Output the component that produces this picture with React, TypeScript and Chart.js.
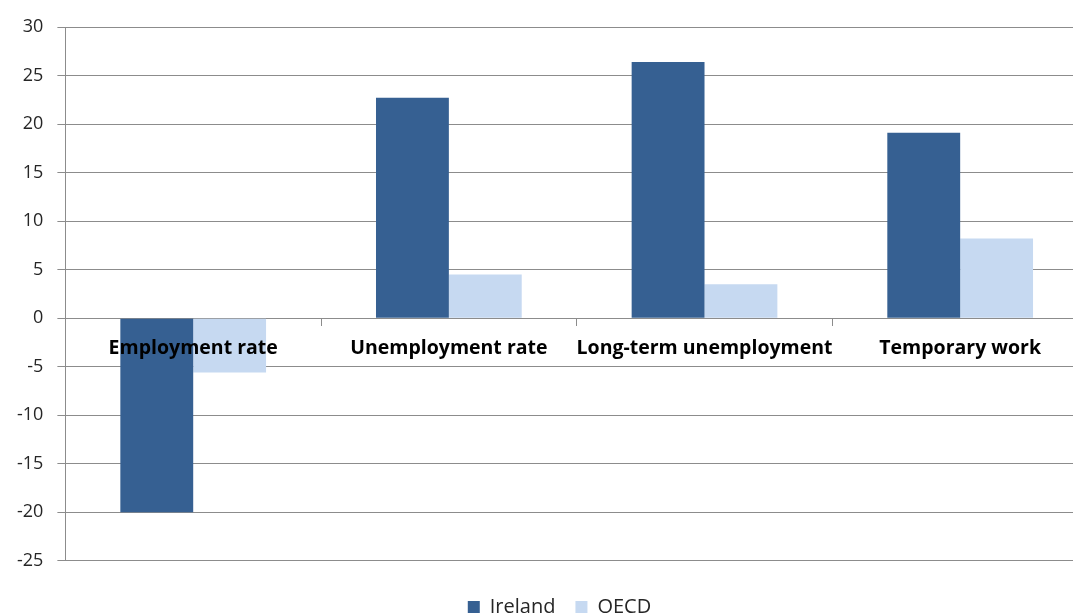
import React, { useEffect, useRef } from "react";
import { Chart, registerables } from "chart.js";

Chart.register(...registerables);

const categories = ["Employment rate", "Unemployment rate", "Long-term unemployment", "Temporary work"];
const irelandValues = [-20, 22.7, 26.4, 19.1];
const oecdValues = [-5.6, 4.5, 3.5, 8.2];
const yMin = -25;
const yMax = 30;
const yStep = 5;

const legendShift = {
  id: "legendShift",
  afterLayout(chart: any) {
    if (chart.legend) {
      chart.legend.left += 14;
      chart.legend.right += 14;
    }
  },
};

export default function App() {
  const ref = useRef<HTMLCanvasElement | null>(null);
  useEffect(() => {
    if (!ref.current) return;
    const gray = "#8c8c8c";
    const chart = new Chart(ref.current, {
      type: "bar",
      data: {
        labels: categories,
        datasets: [
          { label: "Ireland", data: irelandValues, backgroundColor: "#366092", borderWidth: 0 },
          { label: "OECD", data: oecdValues, backgroundColor: "#C6D9F1", borderWidth: 0 },
        ],
      },
      options: {
        responsive: false,
        animation: false,
        layout: { padding: { top: 27, right: 32, left: 3, bottom: 0 } },
        datasets: { bar: { barPercentage: 1, categoryPercentage: 0.57 } },
        scales: {
          x: {
            position: { y: 0 } as any,
            offset: true,
            grid: { offset: true, drawOnChartArea: false, drawTicks: true, tickLength: 7, color: gray },
            border: { display: true, color: gray },
            ticks: {
              z: 1,
              color: "#000",
              font: { family: "Open Sans", size: 19.5, weight: "bold" },
              padding: 12,
              maxRotation: 0,
              autoSkip: false,
            },
          },
          y: {
            min: yMin,
            max: yMax,
            ticks: { stepSize: yStep, color: "#262626", font: { family: "Open Sans", size: 18 }, padding: 14 },
            grid: { color: gray, tickLength: 8 },
            border: { color: gray },
          },
        },
        plugins: {
          legend: {
            position: "bottom",
            title: { display: true, text: "", font: { size: 1 }, padding: { top: 0, bottom: 15 } },
            labels: {
              boxWidth: 12,
              boxHeight: 12,
              color: "#262626",
              font: { family: "Open Sans", size: 20 },
              padding: 20,
            },
          },
          tooltip: { enabled: false },
        },
      },
      plugins: [legendShift],
    });
    return () => chart.destroy();
  }, []);
  return (
    <div style={{ position: "fixed", left: 0, top: 0, width: 1073, height: 615, overflow: "hidden", background: "#fff" }}>
      <canvas ref={ref} width={1120} height={627} style={{ width: 1120, height: 627, display: "block" }} />
    </div>
  );
}
